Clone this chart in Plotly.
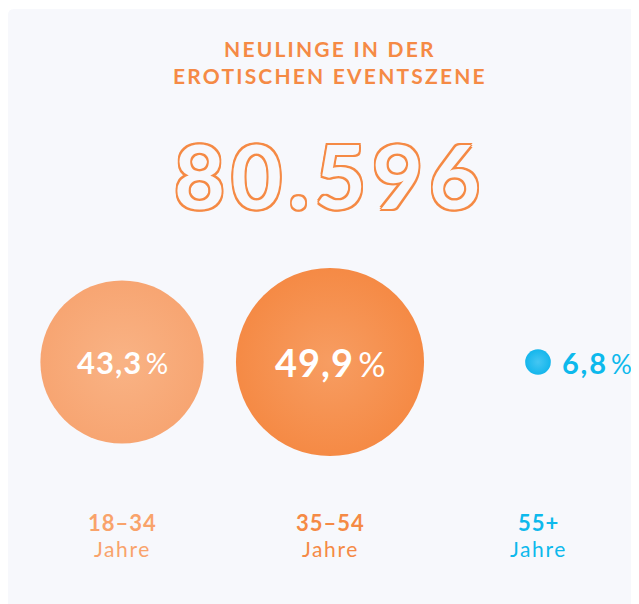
import plotly.graph_objects as go

# Daten
age_groups = ["18–34", "35–54", "55+"]
shares = [43.3, 49.9, 6.8]
share_labels = ["43,3", "49,9", "6,8"]
total_label = "80.596"
title_lines = ["NEULINGE IN DER", "EROTISCHEN EVENTSZENE"]

# Seite hat 8px Rand -> alle Positionen um 8px verschoben
W, H = 639, 604
ORANGE = "#F58A45"
EDGE = ["#F7A572", "#F58A45", "#14B6EC"]
CENTER = ["#F9B385", "#F79D62", "#45C6F2"]
TEXT = ["#F9A36B", "#F58A45", "#0DB9EC"]
FONT = "Lato"


def spaced(txt, px):
    return f"<span style='letter-spacing:{px}px'>{txt}</span>"


fig = go.Figure()

fig.add_trace(go.Scatter(
    x=age_groups,
    y=[354] * len(shares),
    mode="markers",
    marker={
        "size": shares,
        "sizemode": "diameter",
        "sizeref": 1 / 3.77,
        "color": EDGE,
        "gradient": {"type": "radial", "color": CENTER},
        "line": {"width": 0},
        "opacity": 1,
    },
    hoverinfo="skip",
))

# Titel
for i, line in enumerate(title_lines):
    fig.add_annotation(
        x=1, y=40 + i * 27, xref="x", yref="y",
        text=f"<b>{spaced(line, 2.2)}</b>",
        showarrow=False,
        font={"family": FONT, "size": 21, "color": ORANGE},
    )

# große Zahl als Kontur
d = 1.7
offs = [(d, 0), (-d, 0), (0, d), (0, -d), (d, d), (-d, -d), (d, -d), (-d, d)]
shadow = ", ".join(f"{dx}px {dy}px 0 {ORANGE}" for dx, dy in offs)
fig.add_annotation(
    x=1, y=167, xref="x", yref="y", text=f"<b>{spaced(total_label, 6)}</b>",
    showarrow=False,
    font={"family": FONT, "size": 88, "color": "#F7F8FC", "shadow": shadow},
)

# Prozentwerte
for i, (lab, s) in enumerate(zip(share_labels, shares)):
    big = i < 2
    size = [31, 38, 29][i]
    txt = (f"<b>{spaced(lab, 1 if big else 1.8)}</b>"
           f"<span style='font-size:{int(size * 0.92)}px'>\u2009%</span>")
    fig.add_annotation(
        x=i, y=354, xref="x", yref="y", text=txt, showarrow=False,
        xanchor="center" if big else "left",
        xshift=0 if big else 22,
        font={"family": FONT, "size": size, "color": "white" if big else TEXT[i]},
    )

# Altersgruppen
for i, g in enumerate(age_groups):
    fig.add_annotation(
        x=i, y=514, xref="x", yref="y", text=f"<b>{spaced(g, 1)}</b>",
        showarrow=False,
        font={"family": FONT, "size": 22, "color": TEXT[i]},
    )
    fig.add_annotation(
        x=i, y=540, xref="x", yref="y", text=spaced("Jahre", 1.6),
        showarrow=False,
        font={"family": FONT, "size": 21, "color": TEXT[i]},
    )

# Hintergrundfläche mit runder Ecke
y0, r = 1 - 1 / H, 6
fig.add_shape(
    type="path", xref="paper", yref="paper", layer="below",
    path=(f"M 0,0 L 0,{1 - (1 + r) / H} "
          f"Q 0,{y0} {r / W},{y0} L 1,{y0} L 1,0 Z"),
    fillcolor="#F7F8FC", line={"width": 0},
)

fig.update_layout(
    width=W, height=H,
    margin={"l": 0, "r": 0, "t": 0, "b": 0},
    paper_bgcolor="white",
    plot_bgcolor="rgba(0,0,0,0)",
    showlegend=False,
    xaxis={"type": "category", "range": [-114 / 208, (W - 114) / 208],
           "visible": False, "fixedrange": True},
    yaxis={"range": [H, 0], "visible": False, "fixedrange": True},
)

fig.write_html("out.html")
